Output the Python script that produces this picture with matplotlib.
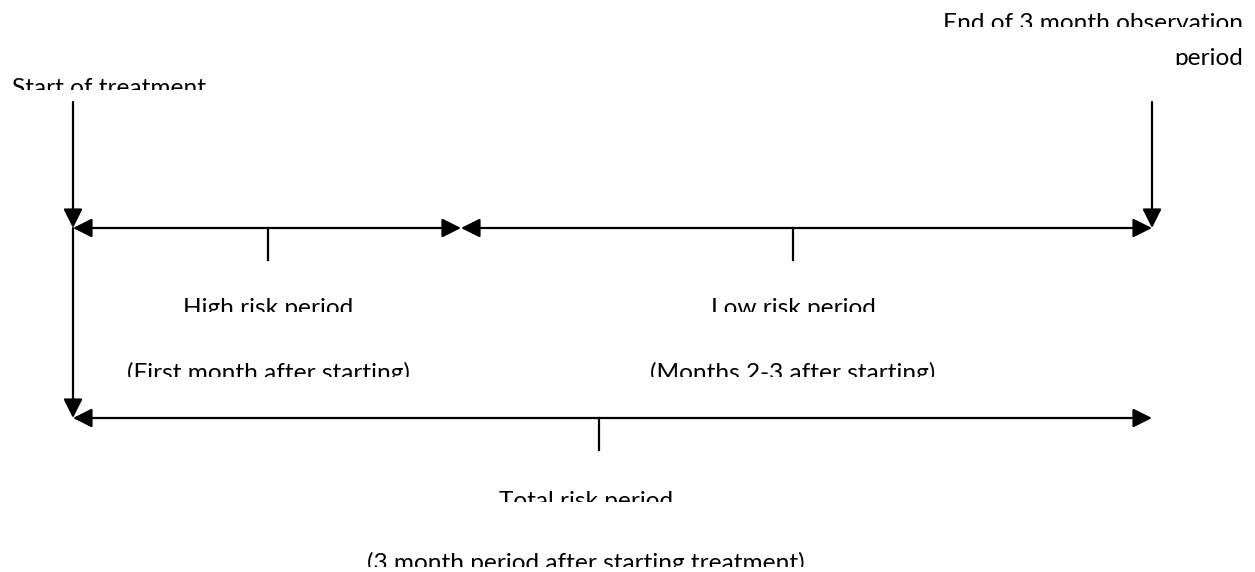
import matplotlib.pyplot as plt
from matplotlib.patches import Rectangle

# timeline positions (pixels across the figure)
x_start, x_month1, x_end = 73, 461, 1152
y_top_bar, y_total_bar = 228, 418
y_marker_top = 102

# tick marks under each period (x, y of the bar)
tick_x = [268, 793, 599]
tick_y = [228, 228, 418]
tick_len = 32

# labels: text, x, top of text, clip line, alignment
labels = [
    "Start of treatment",
    "End of 3 month observation",
    "period",
    "High risk period",
    "(First month after starting)",
    "Low risk period",
    "(Months 2-3 after starting)",
    "Total risk period",
    "(3 month period after starting treatment)",
]
label_x = [12, 1243, 1243, 268, 268, 793, 793, 586, 586]
label_top = [78, 13, 48, 298, 362, 298, 362, 491, 552]
label_clip = [90, 27, 65, 312, 377, 312, 377, 502, 567]
label_ha = ["left", "right", "right", "center", "center", "center", "center",
            "center", "center"]

W, H = 1255, 572
fig = plt.figure(figsize=(W / 100, H / 100), dpi=100)
ax = fig.add_axes([0, 0, 1, 1])
ax.set_xlim(0, W)
ax.set_ylim(H, 0)
ax.axis("off")

lw = 1.6
head = "head_length=1.6,head_width=0.8"

def arrow(p0, p1, style):
    ax.annotate("", xy=p1, xytext=p0,
                arrowprops=dict(arrowstyle=style + "," + head, color="black",
                                lw=lw, mutation_scale=7.2,
                                shrinkA=0, shrinkB=0))

# vertical markers
arrow((x_start, y_marker_top), (x_start, y_top_bar), "-|>")
arrow((x_start, y_top_bar), (x_start, y_total_bar), "-|>")
arrow((x_end, y_marker_top), (x_end, y_top_bar), "-|>")

# period bars
arrow((x_start, y_top_bar), (x_month1, y_top_bar), "<|-|>")
arrow((x_month1, y_top_bar), (x_end, y_top_bar), "<|-|>")
arrow((x_start, y_total_bar), (x_end, y_total_bar), "<|-|>")

for tx, ty in zip(tick_x, tick_y):
    ax.plot([tx, tx], [ty, ty + tick_len], color="black", lw=lw)

# text boxes are cut off at the bottom, as in the original figure
for txt, lx, top, clip, ha in zip(labels, label_x, label_top, label_clip, label_ha):
    t = ax.text(lx, top, txt, ha=ha, va="top", fontsize=17.6,
                family="Lato", color="black")
    box = Rectangle((0, top - 30), W, clip - (top - 30), transform=ax.transData)
    t.set_clip_path(box)
    t.set_clip_on(True)

fig.savefig("out.png", dpi=100)
